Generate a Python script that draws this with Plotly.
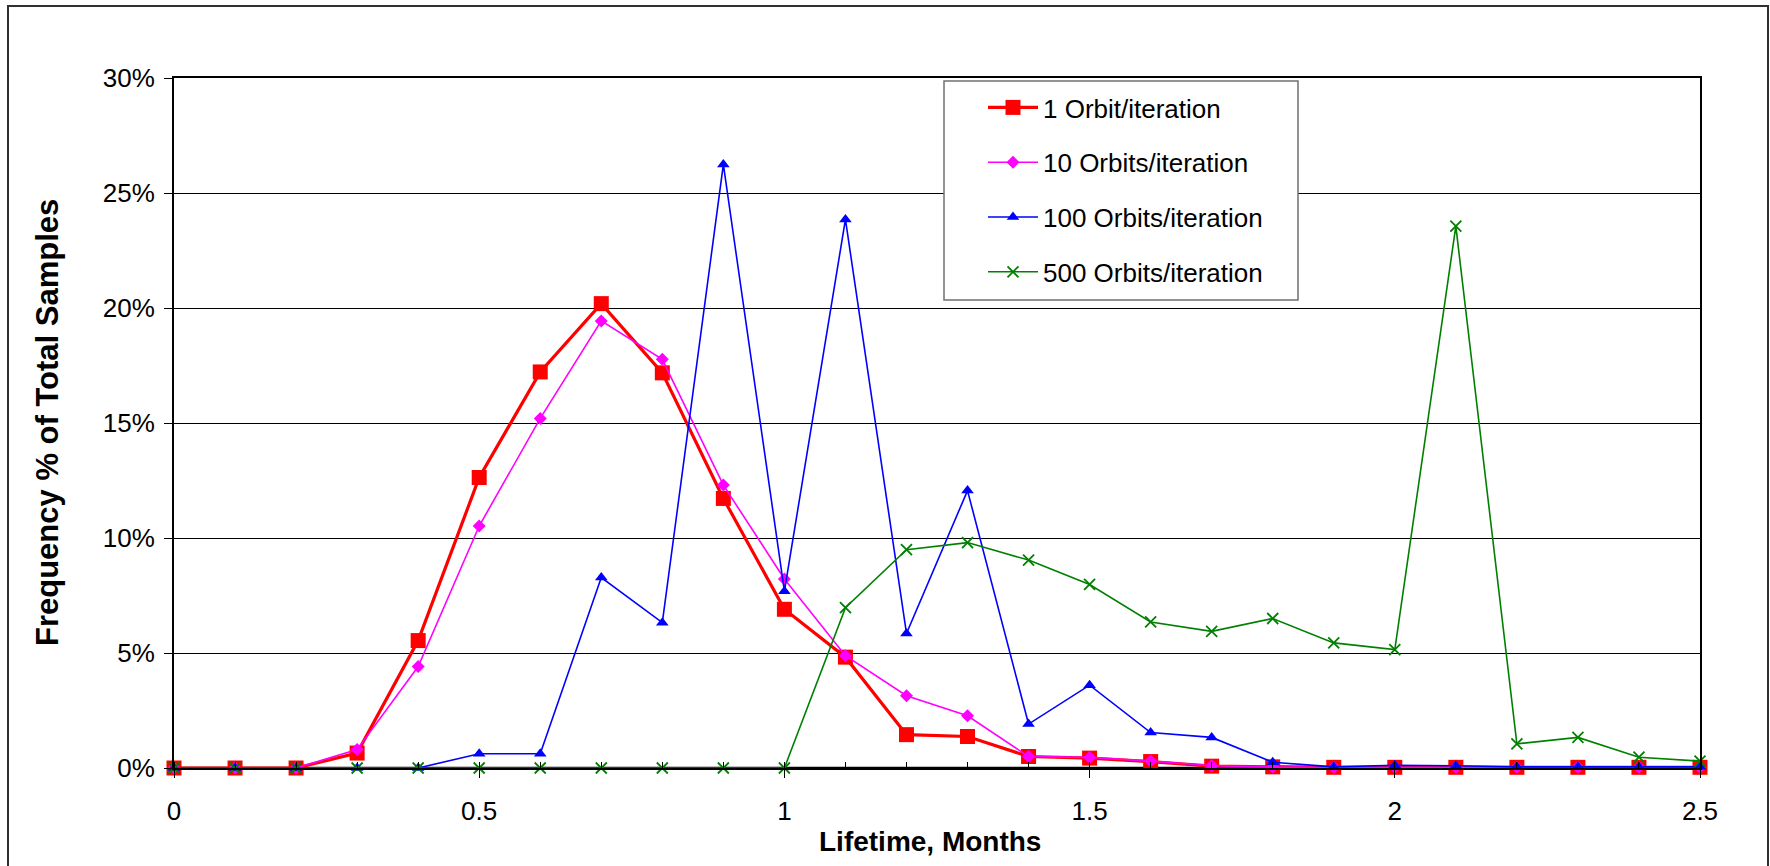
import plotly.graph_objects as go

# ---------------- data ----------------
lifetime_months = [0.0, 0.1, 0.2, 0.3, 0.4, 0.5, 0.6, 0.7, 0.8, 0.9, 1.0, 1.1, 1.2,
                   1.3, 1.4, 1.5, 1.6, 1.7, 1.8, 1.9, 2.0, 2.1, 2.2, 2.3, 2.4, 2.5]

orbit_1 = [0, 0, 0, 0.65, 5.54, 12.63, 17.22, 20.19, 17.18, 11.72, 6.90, 4.82, 1.45,
           1.37, 0.50, 0.43, 0.28, 0.08, 0.05, 0.03, 0.03, 0.03, 0.03, 0.03, 0.03, 0.03]

orbit_10 = [0, 0, 0, 0.80, 4.41, 10.52, 15.20, 19.44, 17.77, 12.30, 8.22, 4.88, 3.14,
            2.27, 0.50, 0.46, 0.30, 0.10, 0.04, 0.03, 0.03, 0.03, 0.03, 0.03, 0.03, 0.03]

orbit_100 = [0, 0, 0, 0, 0, 0.62, 0.62, 8.28, 6.32, 26.24, 7.69, 23.85, 5.85,
             12.06, 1.91, 3.60, 1.54, 1.33, 0.25, 0.05, 0.12, 0.10, 0.05, 0.05, 0.05, 0.05]

orbit_500 = [0, 0, 0, 0, 0, 0, 0, 0, 0, 0, 0, 6.97, 9.49,
             9.80, 9.04, 7.98, 6.35, 5.94, 6.50, 5.44, 5.15, 23.56, 1.05, 1.33, 0.47, 0.30]

series_names = ["1 Orbit/iteration", "10 Orbits/iteration",
                "100 Orbits/iteration", "500 Orbits/iteration"]

y_ticks = [0, 5, 10, 15, 20, 25, 30]
y_tick_labels = ["0%", "5%", "10%", "15%", "20%", "25%", "30%"]
x_ticks = [0, 0.5, 1, 1.5, 2, 2.5]
x_tick_labels = ["0", "0.5", "1", "1.5", "2", "2.5"]

# ---------------- layout geometry (pixels) ----------------
W, H = 1770, 866
PL, PR, PT, PB = 174, 1700, 78, 768   # plot area edges
FONT = "Liberation Sans, Arial, sans-serif"


def px_x(px):
    return (px - PL) / (PR - PL)


def px_y(py):
    return (PB - py) / (PB - PT)


fig = go.Figure()

fig.add_trace(go.Scatter(
    x=lifetime_months, y=orbit_1, name=series_names[0], mode="lines+markers",
    line=dict(color="#FF0000", width=3.2),
    marker=dict(symbol="square", size=15, color="#FF0000"),
    cliponaxis=False, legendgroup="a"))

fig.add_trace(go.Scatter(
    x=lifetime_months, y=orbit_10, name=series_names[1], mode="lines+markers",
    line=dict(color="#FF00FF", width=1.6),
    marker=dict(symbol="diamond", size=10, color="#FF00FF"),
    cliponaxis=False, legendgroup="b"))

fig.add_trace(go.Scatter(
    x=lifetime_months, y=orbit_100, name=series_names[2], mode="lines+markers",
    line=dict(color="#0000FF", width=1.6),
    marker=dict(symbol="triangle-up", size=11, color="#0000FF"),
    cliponaxis=False, legendgroup="c"))

fig.add_trace(go.Scatter(
    x=lifetime_months, y=orbit_500, name=series_names[3], mode="lines+markers",
    line=dict(color="#008000", width=1.6),
    marker=dict(symbol="x-thin", size=11, color="#008000",
                line=dict(color="#008000", width=1.8)),
    cliponaxis=False, legendgroup="d"))

fig.update_layout(
    width=W, height=H, autosize=False,
    margin=dict(l=PL, r=W - PR, t=PT, b=H - PB, pad=0),
    paper_bgcolor="white", plot_bgcolor="white",
    font=dict(family=FONT, size=26, color="black"),
    showlegend=True,
    legend=dict(
        x=px_x(983), y=px_y(84), xanchor="left", yanchor="top",
        bgcolor="rgba(0,0,0,0)", borderwidth=0,
        font=dict(family=FONT, size=26, color="black"),
        traceorder="grouped", tracegroupgap=18, itemwidth=50,
    ),
    xaxis=dict(
        range=[0, 2.5], tickmode="array", tickvals=x_ticks, ticktext=x_tick_labels,
        showgrid=False, zeroline=False,
        showline=True, linecolor="black", linewidth=1.5, mirror=True,
        ticks="outside", ticklen=8, tickcolor="black", tickwidth=1.2,
        minor=dict(dtick=0.1, ticks="inside", ticklen=6, tickcolor="black", tickwidth=1.2),
        tickfont=dict(family=FONT, size=26), ticklabelstandoff=11,
    ),
    yaxis=dict(
        range=[0, 30], tickmode="array", tickvals=y_ticks, ticktext=y_tick_labels,
        showgrid=True, gridcolor="black", gridwidth=1, zeroline=False,
        showline=True, linecolor="black", linewidth=2, mirror=True,
        ticks="outside", ticklen=8, tickcolor="black", tickwidth=1.2,
        tickfont=dict(family=FONT, size=26), ticklabelstandoff=4,
    ),
    shapes=[
        # outer chart border
        dict(type="rect", xref="paper", yref="paper",
             x0=px_x(8), x1=px_x(1768), y0=px_y(880), y1=px_y(6),
             line=dict(color="#303030", width=2), fillcolor="rgba(0,0,0,0)", layer="below"),
        # x axis line at 0 (thicker)
        dict(type="line", xref="paper", yref="paper",
             x0=0, x1=1, y0=0, y1=0, line=dict(color="black", width=2.5), layer="below"),
        # legend box
        dict(type="rect", xref="paper", yref="paper",
             x0=px_x(944), x1=px_x(1298), y0=px_y(300), y1=px_y(81),
             line=dict(color="#707070", width=1.5), fillcolor="white", layer="above"),
    ],
    annotations=[
        dict(text="<b>Lifetime, Months</b>", xref="paper", yref="paper",
             x=px_x(930), y=px_y(841), xanchor="center", yanchor="middle",
             showarrow=False, font=dict(family=FONT, size=28)),
        dict(text="<b>Frequency % of Total Samples</b>", xref="paper", yref="paper",
             x=px_x(47), y=px_y(423), xanchor="center", yanchor="middle",
             textangle=-90, showarrow=False, font=dict(family=FONT, size=31)),
    ],
)

fig.write_html("out.html")
